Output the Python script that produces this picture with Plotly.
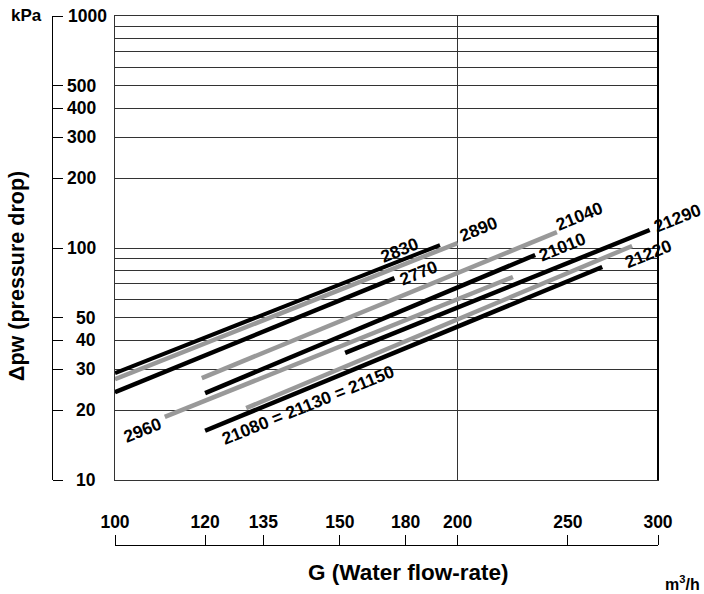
import math
import plotly.graph_objects as go

# ---- data ----
series_names = ["2830", "2770", "21010", "21080 = 21130 = 21150", "21290",
                "2890", "2960", "21040", "21220"]
g_start = [100, 100, 120, 120, 159.3, 100, 110.6, 119.2, 130.4]
g_end = [193, 176, 234, 268, 295, 200, 223.7, 244.5, 284.7]
dp_start = [28.9, 23.9, 23.7, 16.3, 35.3, 27.2, 18.7, 27.5, 20.4]
dp_end = [103, 74.2, 93.3, 82.8, 119.6, 105, 75.0, 117, 102]

x_tick_labels = ["100", "120", "135", "150", "180", "200", "250", "300"]
x_tick_vals = [100, 120, 135, 157.6, 180, 200, 250, 300]
y_tick_vals = [10, 20, 30, 40, 50, 100, 200, 300, 400, 500, 1000]
y_tick_labels = ["10", "20", "30", "40", "50", "100", "200", "300", "400", "500", "1000"]
y_grid_vals = [20, 30, 40, 50, 60, 70, 80, 90, 100, 200, 300, 400, 500, 600, 700, 800, 900]

# ---- styles ----
BLACK = "#000000"
GRAY = "#999999"
line_colors = [BLACK, BLACK, BLACK, BLACK, BLACK, GRAY, GRAY, GRAY, GRAY]
line_widths = [4, 4.5, 4.5, 4.5, 4.5, 4.5, 4.5, 4.5, 4.5]
# label: anchored at line start ("s") or end ("e"), pixel shift of label centre
label_anchor = ["e", "e", "e", "s", "e", "e", "s", "e", "e"]
label_xshift = [-40, 24, 27, 103, 28, 21, -22, 23, 16]
label_yshift = [-5, 5, 8, 26, 12, 14, -13, 16, -8]

FONT = "Liberation Sans, Arial, sans-serif"
W, H = 704, 594
px_left, px_right, px_top, px_bottom = 115, 658, 16, 480

fig = go.Figure()
for i, name in enumerate(series_names):
    fig.add_trace(go.Scatter(
        x=[g_start[i], g_end[i]], y=[dp_start[i], dp_end[i]],
        mode="lines", name=name, showlegend=False, hoverinfo="skip",
        line=dict(color=line_colors[i], width=line_widths[i]),
    ))
# empty traces so that the detached axes are drawn
fig.add_trace(go.Scatter(x=[None], y=[None], xaxis="x2", yaxis="y",
                         showlegend=False, hoverinfo="skip"))
fig.add_trace(go.Scatter(x=[None], y=[None], xaxis="x", yaxis="y2",
                         showlegend=False, hoverinfo="skip"))

annotations = []
for i, name in enumerate(series_names):
    if label_anchor[i] == "e":
        gx, gy = g_end[i], dp_end[i]
    else:
        gx, gy = g_start[i], dp_start[i]
    annotations.append(dict(
        x=math.log10(gx), y=math.log10(gy), xref="x", yref="y",
        text=name, showarrow=False, textangle=-22,
        xanchor="center", yanchor="middle",
        xshift=label_xshift[i], yshift=label_yshift[i],
        font=dict(family=FONT, size=17.5, color="black", weight="bold"),
    ))

# y tick labels of the detached left axis
for v, t in zip(y_tick_vals, y_tick_labels):
    xr = 109 if len(t) >= 4 else 98
    annotations.append(dict(
        x=xr / W, y=math.log10(v), xref="paper", yref="y",
        text=t, showarrow=False, xanchor="right", yanchor="middle",
        font=dict(family=FONT, size=17.5, color="black", weight="bold"),
    ))

annotations += [
    dict(x=9 / W, y=1 - 16 / H, xref="paper", yref="paper", text="kPa",
         showarrow=False, xanchor="left", yanchor="middle",
         font=dict(family=FONT, size=17, color="black", weight="bold")),
    dict(x=17 / W, y=1 - 276 / H, xref="paper", yref="paper",
         text="Δpw (pressure drop)", textangle=-90, showarrow=False,
         xanchor="center", yanchor="middle",
         font=dict(family=FONT, size=21.5, color="black", weight="bold")),
    dict(x=408 / W, y=1 - 572 / H, xref="paper", yref="paper",
         text="G (Water flow-rate)", showarrow=False,
         xanchor="center", yanchor="middle",
         font=dict(family=FONT, size=22.5, color="black", weight="bold")),
    dict(x=702 / W, y=1 - 583 / H, xref="paper", yref="paper",
         text="m<sup>3</sup>/h", showarrow=False,
         xanchor="right", yanchor="middle",
         font=dict(family=FONT, size=16, color="black", weight="bold")),
]

xdom = [px_left / W, px_right / W]
ydom = [1 - px_bottom / H, 1 - px_top / H]
xr = [2, math.log10(300)]
yr = [1, 3]

fig.update_layout(
    template="none",
    width=W, height=H,
    margin=dict(l=0, r=0, t=0, b=0, pad=0),
    paper_bgcolor="white", plot_bgcolor="white",
    showlegend=False,
    xaxis=dict(type="log", range=xr, domain=xdom, automargin=False,
               tickvals=[200], showticklabels=False, ticks="",
               showgrid=True, gridcolor="#333333", gridwidth=1,
               showline=True, mirror=True, linecolor="#333333", linewidth=1,
               zeroline=False),
    yaxis=dict(type="log", range=yr, domain=ydom, automargin=False,
               tickvals=y_grid_vals, showticklabels=False, ticks="",
               showgrid=True, gridcolor="#333333", gridwidth=1,
               showline=True, mirror=True, linecolor="#333333", linewidth=1,
               zeroline=False),
    xaxis2=dict(type="log", range=xr, domain=xdom, overlaying="x",
                automargin=False,
                anchor="free", position=1 - 545 / H, side="top",
                tickvals=x_tick_vals, ticktext=x_tick_labels,
                ticks="outside", ticklen=10, tickcolor="black", tickwidth=1,
                showline=True, linecolor="black", linewidth=1,
                showgrid=False, zeroline=False,
                tickfont=dict(family=FONT, size=17.5, color="black", weight="bold")),
    yaxis2=dict(type="log", range=yr, domain=ydom, overlaying="y",
                automargin=False,
                anchor="free", position=52 / W, side="right",
                tickvals=y_tick_vals, showticklabels=False,
                ticks="outside", ticklen=10, tickcolor="black", tickwidth=1,
                showline=True, linecolor="black", linewidth=1,
                showgrid=False, zeroline=False),
    annotations=annotations,
    shapes=[dict(type="line", xref="x domain", yref="y domain",
                 x0=1, x1=1, y0=0, y1=1, line=dict(color="black", width=2))],
)

fig.write_html("out.html", config={"displayModeBar": False},
               post_script="document.body.style.margin='0px';")
